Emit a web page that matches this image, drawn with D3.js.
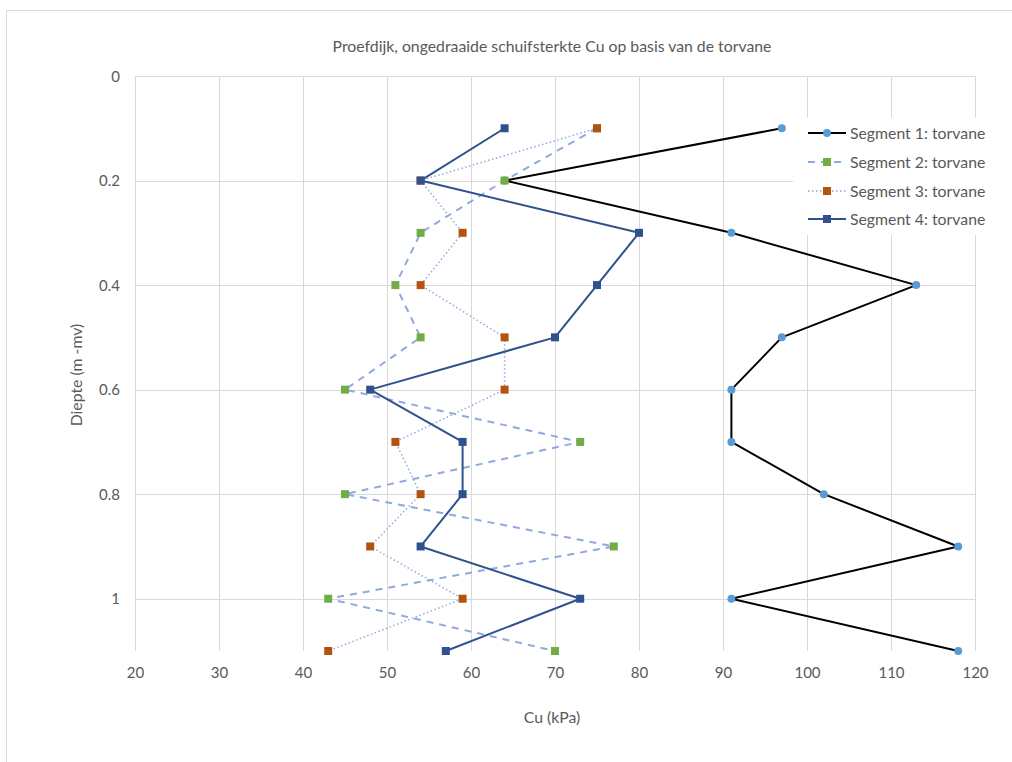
<!DOCTYPE html>
<html>
<head>
<meta charset="utf-8">
<script src="https://cdn.jsdelivr.net/npm/d3@7"></script>
<style>
  html, body { margin: 0; padding: 0; background: #fff; }
  svg { display: block; }
  text { font-family: Lato, "Open Sans", sans-serif; fill: #595959; }
</style>
</head>
<body>
<svg id="chart" width="1012" height="762"></svg>
<script>
const depths = [0.1, 0.2, 0.3, 0.4, 0.5, 0.6, 0.7, 0.8, 0.9, 1.0, 1.1];
const seg1 = [97, 64, 91, 113, 97, 91, 91, 102, 118, 91, 118];
const seg2 = [75, 64, 54, 51, 54, 45, 73, 45, 77, 43, 70];
const seg3 = [75, 54, 59, 54, 64, 64, 51, 54, 48, 59, 43];
const seg4 = [64, 54, 80, 75, 70, 48, 59, 59, 54, 73, 57];
const seriesNames = ["Segment 1: torvane", "Segment 2: torvane", "Segment 3: torvane", "Segment 4: torvane"];
const xTicks = [20, 30, 40, 50, 60, 70, 80, 90, 100, 110, 120];
const yTicks = [0, 0.2, 0.4, 0.6, 0.8, 1];
const title = "Proefdijk, ongedraaide schuifsterkte Cu op basis van de torvane";
const xTitle = "Cu (kPa)";
const yTitle = "Diepte (m -mv)";

const styles = [
  { line: "#000000", width: 2, dash: null, marker: "circle", fill: "#5B9BD5" },
  { line: "#8FAADC", width: 2, dash: "7,6", marker: "square", fill: "#70AD47" },
  { line: "#8FAADC", width: 1.5, dash: "1.5,2.5", marker: "square", fill: "#B4520F" },
  { line: "#2F528F", width: 2, dash: null, marker: "square", fill: "#2F528F" }
];
const allSeries = [seg1, seg2, seg3, seg4];

const svg = d3.select("#chart");

// chart border (top and left visible)
svg.append("line").attr("x1", 6.5).attr("x2", 1012).attr("y1", 10.5).attr("y2", 10.5)
  .attr("stroke", "#d9d9d9").attr("stroke-width", 1);
svg.append("line").attr("x1", 6.5).attr("x2", 6.5).attr("y1", 10.5).attr("y2", 762)
  .attr("stroke", "#d9d9d9").attr("stroke-width", 1);

const x = d3.scaleLinear().domain([20, 120]).range([135, 975]);
const y = d3.scaleLinear().domain([0, 1.1]).range([76, 651]);

// gridlines
const g = svg.append("g");
g.selectAll("line.vg").data(xTicks).join("line")
  .attr("x1", d => Math.round(x(d)) + 0.5).attr("x2", d => Math.round(x(d)) + 0.5)
  .attr("y1", y(0)).attr("y2", y(1.1))
  .attr("stroke", "#d9d9d9").attr("stroke-width", 1);
g.selectAll("line.hg").data(yTicks).join("line")
  .attr("x1", x(20)).attr("x2", x(120))
  .attr("y1", d => Math.round(y(d)) + 0.5).attr("y2", d => Math.round(y(d)) + 0.5)
  .attr("stroke", "#d9d9d9").attr("stroke-width", 1);

// axes (labels only)
const xAxis = d3.axisBottom(x).tickValues(xTicks).tickSize(0).tickPadding(0).tickFormat(d3.format("d"));
const xa = svg.append("g").attr("transform", `translate(0,${y(1.1) + 27})`).call(xAxis);
xa.select(".domain").remove();
xa.selectAll("text").attr("dy", "0").attr("font-size", 15).style("font-family", "Lato, sans-serif").attr("fill", "#595959");

const yAxis = d3.axisLeft(y).tickValues(yTicks).tickSize(0).tickPadding(0).tickFormat(d => d === 0 ? "0" : d === 1 ? "1" : d3.format(".1f")(d));
const ya = svg.append("g").attr("transform", `translate(${x(20) - 15},0)`).call(yAxis);
ya.select(".domain").remove();
ya.selectAll("text").attr("dy", "0.35em").attr("font-size", 15).style("font-family", "Lato, sans-serif").attr("fill", "#595959");

// titles
svg.append("text").attr("x", 552).attr("y", 52).attr("text-anchor", "middle")
  .attr("font-size", 15.8).text(title);
svg.append("text").attr("x", 552).attr("y", 723).attr("text-anchor", "middle")
  .attr("font-size", 15.8).text(xTitle);
svg.append("text").attr("transform", `translate(82,375) rotate(-90)`)
  .attr("text-anchor", "middle").attr("font-size", 15.8).text(yTitle);

// series
const lineGen = d3.line().x(d => x(d[0])).y(d => y(d[1]));
allSeries.forEach((vals, i) => {
  const st = styles[i];
  const pts = vals.map((v, k) => [v, depths[k]]);
  const sg = svg.append("g");
  sg.append("path").datum(pts).attr("d", lineGen).attr("fill", "none")
    .attr("stroke", st.line).attr("stroke-width", st.width)
    .attr("stroke-dasharray", st.dash).attr("stroke-linejoin", "round");
  if (st.marker === "circle") {
    sg.selectAll("circle").data(pts).join("circle")
      .attr("cx", d => x(d[0])).attr("cy", d => y(d[1])).attr("r", 4)
      .attr("fill", st.fill);
  } else {
    sg.selectAll("rect").data(pts).join("rect")
      .attr("x", d => x(d[0]) - 4).attr("y", d => y(d[1]) - 4)
      .attr("width", 8).attr("height", 8).attr("fill", st.fill);
  }
});

// legend
const lg = svg.append("g");
lg.append("rect").attr("x", 793).attr("y", 118).attr("width", 219).attr("height", 117).attr("fill", "#fff");
const rowY = [133, 162, 191, 219];
seriesNames.forEach((name, i) => {
  const st = styles[i];
  const yy = rowY[i];
  lg.append("line").attr("x1", 808).attr("x2", 846).attr("y1", yy).attr("y2", yy)
    .attr("stroke", st.line).attr("stroke-width", st.width).attr("stroke-dasharray", st.dash);
  if (st.marker === "circle") {
    lg.append("circle").attr("cx", 827).attr("cy", yy).attr("r", 4).attr("fill", st.fill);
  } else {
    lg.append("rect").attr("x", 823).attr("y", yy - 4).attr("width", 8).attr("height", 8).attr("fill", st.fill);
  }
  lg.append("text").attr("x", 850).attr("y", yy).attr("dy", "0.35em").attr("font-size", 15.8).text(name);
});
</script>
</body>
</html>
